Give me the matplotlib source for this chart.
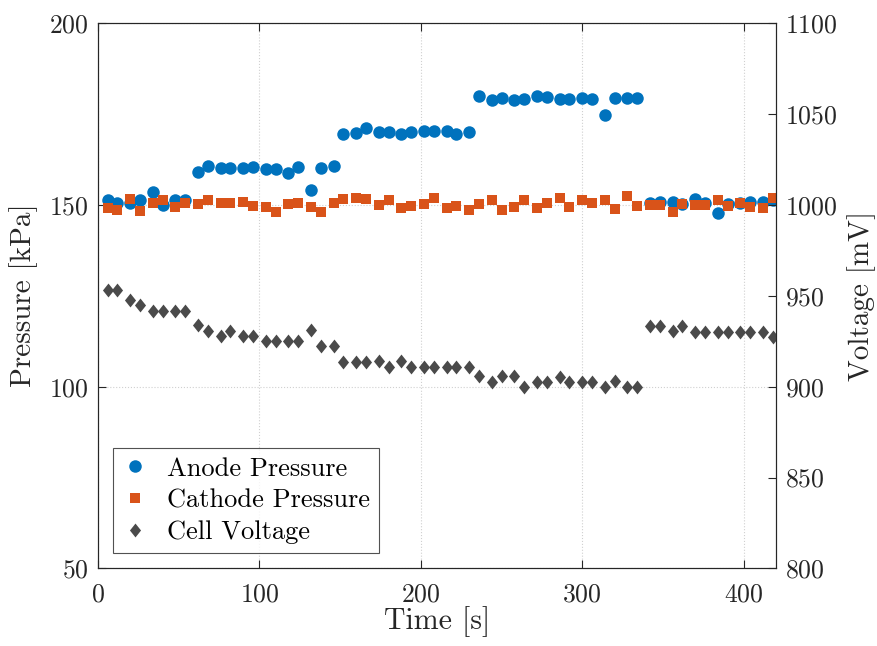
import matplotlib
matplotlib.use("Agg")
import matplotlib.pyplot as plt
from matplotlib.path import Path

plt.rcParams['font.family'] = ['cmr10', 'DejaVu Serif']
plt.rcParams['mathtext.fontset'] = 'cm'
plt.rcParams['axes.unicode_minus'] = False
plt.rcParams['axes.formatter.use_mathtext'] = True

time_s = [6, 12, 20, 26, 34, 40, 48, 54, 62, 68, 76, 82, 90, 96, 104, 110, 118, 124, 132, 138,
          146, 152, 160, 166, 174, 180, 188, 194, 202, 208, 216, 222, 230, 236, 244, 250, 258, 264, 272, 278,
          286, 292, 300, 306, 314, 320, 328, 334, 342, 348, 356, 362, 370, 376, 384, 390, 398, 404, 412, 418]

anode_kpa = [151.3, 150.6, 150.6, 151.3, 153.4, 150.0, 151.3, 151.2, 159.0, 160.8,
             160.2, 160.1, 160.2, 160.5, 159.8, 159.9, 158.7, 160.5, 154.1, 160.2,
             160.7, 169.5, 169.7, 171.1, 170.1, 170.1, 169.5, 170.0, 170.3, 170.3,
             170.4, 169.5, 170.1, 179.8, 178.9, 179.3, 178.7, 179.0, 179.8, 179.6,
             179.1, 179.0, 179.3, 179.0, 174.7, 179.3, 179.5, 179.3, 150.4, 150.7,
             150.9, 150.2, 151.5, 150.6, 147.7, 150.2, 150.6, 150.9, 150.9, 151.2]

cathode_kpa = [149.2, 148.6, 151.5, 148.3, 150.4, 151.2, 149.3, 150.6, 150.2, 151.2,
               150.4, 150.6, 150.9, 149.7, 149.5, 148.0, 150.2, 150.4, 149.3, 148.0,
               150.4, 151.5, 151.8, 151.5, 150.0, 151.3, 149.1, 149.7, 150.2, 151.8,
               149.1, 149.7, 148.6, 150.2, 151.3, 148.6, 149.3, 151.2, 149.1, 150.6,
               152.0, 149.5, 151.2, 150.6, 151.3, 148.8, 152.3, 149.7, 150.0, 150.0,
               148.1, 150.2, 150.0, 150.0, 151.2, 149.7, 150.4, 149.5, 149.1, 151.8]

voltage_mv = [953.2, 953.2, 947.7, 944.9, 941.8, 941.8, 941.8, 941.8, 933.9, 930.6,
              927.9, 930.8, 927.9, 927.9, 925.1, 925.1, 925.1, 925.1, 931.2, 922.6,
              922.4, 913.8, 913.8, 913.8, 914.3, 911.0, 914.3, 911.0, 911.0, 911.0,
              911.0, 911.0, 911.0, 905.9, 902.8, 905.9, 905.9, 899.7, 902.8, 902.8,
              905.5, 902.8, 902.8, 902.8, 899.7, 903.1, 899.7, 899.7, 933.6, 933.6,
              930.6, 933.6, 930.3, 930.3, 930.3, 930.3, 930.3, 930.3, 930.3, 927.5]

series_labels = ["Anode Pressure", "Cathode Pressure", "Cell Voltage"]
x_ticks = [0, 100, 200, 300, 400]
p_ticks = [50, 100, 150, 200]
v_ticks = [800, 850, 900, 950, 1000, 1050, 1100]

blue = '#0072BD'
orange = '#D95319'
gray = '#4A4A4A'
ink = '#262626'

diamond = Path([(0, 1), (0.8, 0), (0, -1), (-0.8, 0), (0, 1)],
               [Path.MOVETO, Path.LINETO, Path.LINETO, Path.LINETO, Path.CLOSEPOLY])

fig = plt.figure(figsize=(8.77, 6.46), dpi=100)
ax = fig.add_axes([0.1117, 0.12, 0.7731, 0.8444])
ax2 = ax.twinx()

h1, = ax.plot(time_s, anode_kpa, 'o', color=blue, markersize=9, markeredgewidth=0, label=series_labels[0])
h2, = ax.plot(time_s, cathode_kpa, 's', color=orange, markersize=6.5, markeredgewidth=0, label=series_labels[1])
h3, = ax2.plot(time_s, voltage_mv, linestyle='none', marker=diamond, color=gray, markersize=10,
               markeredgewidth=0, label=series_labels[2])

ax.set_xlim(0, 420)
ax.set_ylim(50, 200)
ax2.set_ylim(800, 1100)
ax.set_xticks(x_ticks)
ax.set_yticks(p_ticks)
ax2.set_yticks(v_ticks)

ax.grid(True, color='#d0d0d0', linestyle=':', linewidth=0.8)
ax.set_axisbelow(True)

for a in (ax, ax2):
    a.tick_params(direction='in', length=6, width=0.8, labelsize=18.5, colors=ink, pad=6.5)
    for s in a.spines.values():
        s.set_color(ink)
        s.set_linewidth(0.8)
ax.tick_params(top=True, which='both')
ax.tick_params(axis='x', pad=10)

ax.set_xlabel('Time [s]', fontsize=21.5, color=ink, labelpad=0)
ax.set_ylabel('Pressure [kPa]', fontsize=21, color=ink, labelpad=8)
ax2.set_ylabel('Voltage [mV]', fontsize=21, color=ink, labelpad=7)

leg = ax.legend(handles=[h1, h2, h3], loc='lower left', bbox_to_anchor=(0.022, 0.028),
                borderaxespad=0, fontsize=19, frameon=True, fancybox=False, edgecolor=ink,
                handlelength=1.0, handletextpad=0.7, borderpad=0.35, labelspacing=0.3)
leg.get_frame().set_linewidth(0.8)
leg.set_zorder(10)

fig.savefig('out.png', dpi=100)
